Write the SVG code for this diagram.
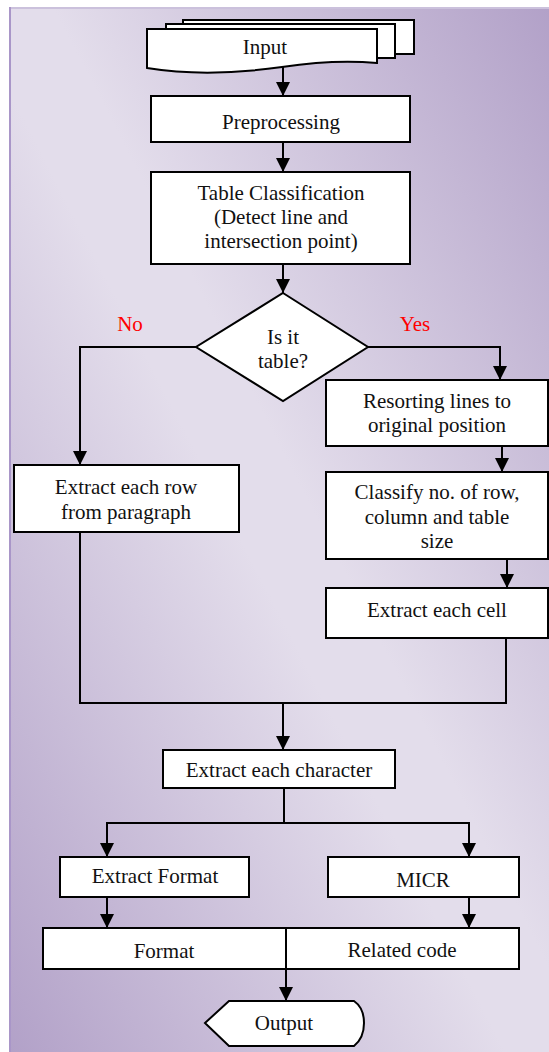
<svg xmlns="http://www.w3.org/2000/svg" width="549" height="1052" viewBox="0 0 549 1052">
  <defs>
    <linearGradient id="bg" x1="1" y1="0" x2="0" y2="1">
      <stop offset="0" stop-color="#b2a1c8"/>
      <stop offset="0.46" stop-color="#e3ddeb"/>
      <stop offset="0.54" stop-color="#e3ddeb"/>
      <stop offset="1" stop-color="#b2a1c8"/>
    </linearGradient>
    <marker id="arrow" markerUnits="userSpaceOnUse" markerWidth="14" markerHeight="14" refX="14" refY="7" orient="auto">
      <path d="M0,0 L14,7 L0,14 Z" fill="#000"/>
    </marker>
    <style>
      .box { fill: #fff; stroke: #000; stroke-width: 2; }
      .wire { fill: none; stroke: #000; stroke-width: 2; }
      .arr { marker-end: url(#arrow); }
      text { font-family: "Liberation Serif", "Times New Roman", serif; font-size: 21px; fill: #111; text-anchor: middle; }
      .red { fill: #ff0000; }
    </style>
  </defs>

  <!-- page background -->
  <rect x="0" y="0" width="549" height="1052" fill="#fff"/>
  <rect x="10" y="8" width="539" height="1044" fill="url(#bg)"/>
  <line x1="10" y1="8" x2="549" y2="8" stroke="#cbc1dc" stroke-width="2"/>
  <line x1="10" y1="7" x2="10" y2="1052" stroke="#a996c8" stroke-width="2"/>

  <!-- connectors -->
  <g id="connectors">
    <line class="wire arr" x1="283" y1="67" x2="283" y2="96"/>
    <line class="wire arr" x1="283" y1="142" x2="283" y2="172"/>
    <line class="wire arr" x1="283" y1="264" x2="283" y2="293"/>
    <polyline class="wire arr" points="368,347 500,347 500,380"/>
    <polyline class="wire arr" points="196,347 80,347 80,465"/>
    <line class="wire arr" x1="502" y1="446" x2="502" y2="472"/>
    <line class="wire arr" x1="507" y1="559" x2="507" y2="588"/>
    <polyline class="wire" points="80,532 80,703 506,703 506,638"/>
    <line class="wire arr" x1="283" y1="703" x2="283" y2="750"/>
    <line class="wire" x1="284" y1="788" x2="284" y2="823"/>
    <polyline class="wire arr" points="284,823 107,823 107,857"/>
    <polyline class="wire arr" points="284,823 469,823 469,857"/>
    <line class="wire arr" x1="107" y1="897" x2="107" y2="928"/>
    <line class="wire arr" x1="469" y1="897" x2="469" y2="928"/>
  </g>

  <!-- nodes -->
  <g id="input">
    <rect class="box" x="183" y="20" width="231" height="34"/>
    <rect class="box" x="166" y="24" width="229" height="34"/>
    <path class="box" d="M147,29 H377 V63 C345,60 315,62 282,67 C240,73 190,75 147,68 Z"/>
    <text x="265" y="54">Input</text>
  </g>

  <g id="preprocessing">
    <rect class="box" x="151" y="96" width="259" height="46"/>
    <text x="281" y="129">Preprocessing</text>
  </g>

  <g id="table-classification">
    <rect class="box" x="151" y="172" width="259" height="92"/>
    <text x="281" y="200">Table Classification</text>
    <text x="281" y="224">(Detect line and</text>
    <text x="281" y="248">intersection point)</text>
  </g>

  <g id="is-table">
    <polygon class="box" points="283,293 368,347 283,401 196,347"/>
    <text x="283" y="344">Is it</text>
    <text x="283" y="368">table?</text>
  </g>

  <g id="branch-labels">
    <text class="red" x="130" y="331">No</text>
    <text class="red" x="415" y="331">Yes</text>
  </g>

  <g id="resorting">
    <rect class="box" x="326" y="380" width="222" height="66"/>
    <text x="437" y="408">Resorting lines to</text>
    <text x="437" y="432">original position</text>
  </g>

  <g id="classify">
    <rect class="box" x="326" y="472" width="222" height="87"/>
    <text x="437" y="499">Classify no. of row,</text>
    <text x="437" y="524">column and table</text>
    <text x="437" y="548">size</text>
  </g>

  <g id="extract-cell">
    <rect class="box" x="326" y="588" width="222" height="50"/>
    <text x="437" y="617">Extract each cell</text>
  </g>

  <g id="extract-row">
    <rect class="box" x="14" y="465" width="225" height="67"/>
    <text x="126" y="494">Extract each row</text>
    <text x="126" y="519">from paragraph</text>
  </g>

  <g id="extract-character">
    <rect class="box" x="163" y="750" width="232" height="38"/>
    <text x="279" y="777">Extract each character</text>
  </g>

  <g id="extract-format">
    <rect class="box" x="60" y="857" width="189" height="40"/>
    <text x="155" y="883">Extract Format</text>
  </g>

  <g id="micr">
    <rect class="box" x="328" y="857" width="191" height="40"/>
    <text x="423" y="887">MICR</text>
  </g>

  <g id="format-code">
    <rect class="box" x="43" y="928" width="476" height="41"/>
    <text x="164" y="958">Format</text>
    <text x="402" y="957">Related code</text>
  </g>

  <!-- line through the combined box down to the output -->
  <line class="wire arr" x1="286" y1="928" x2="286" y2="1001"/>

  <g id="output">
    <path class="box" d="M205,1023 L229,1001 H354 Q364,1008 364,1023 Q364,1038 354,1046 H229 Z"/>
    <text x="284" y="1030">Output</text>
  </g>
</svg>
